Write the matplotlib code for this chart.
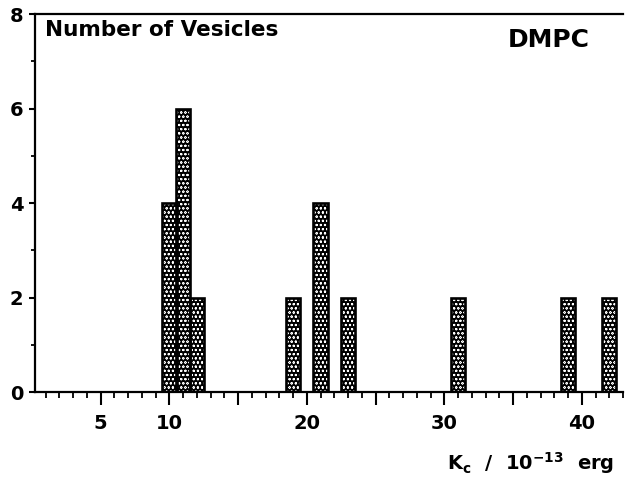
import matplotlib
matplotlib.use("Agg")
import matplotlib.pyplot as plt
from matplotlib.ticker import FixedLocator, FixedFormatter, MultipleLocator

# Data
kc_centers = [10, 11, 12, 19, 21, 23, 31, 39, 42]
counts = [4, 6, 2, 2, 4, 2, 2, 2, 2]
x_major = [5, 10, 15, 20, 25, 30, 35, 40]
x_major_labels = ["5", "10", "", "20", "", "30", "", "40"]
y_major = [0, 2, 4, 6, 8]
y_major_labels = ["0", "2", "4", "6", "8"]

plt.rcParams["font.family"] = ["DejaVu Sans"]
plt.rcParams["font.weight"] = "bold"
plt.rcParams["hatch.linewidth"] = 0.45
plt.rcParams["mathtext.fontset"] = "custom"
plt.rcParams["mathtext.bf"] = "DejaVu Sans:bold"
plt.rcParams["mathtext.rm"] = "DejaVu Sans:bold"

fig = plt.figure(figsize=(6.25, 4.83), dpi=100)
ax = fig.add_axes([0.056, 0.1884, 0.9408, 0.7826])

bw = 1.05
ax.bar(kc_centers, counts, width=bw, facecolor="black", edgecolor="white",
       hatch="oooo", linewidth=0, zorder=2)
ax.bar(kc_centers, counts, width=bw, fill=False, edgecolor="black",
       linewidth=1.9, zorder=3)

ax.set_xlim(0.23, 43.0)
ax.set_ylim(0, 8)

ax.xaxis.set_major_locator(FixedLocator(x_major))
ax.xaxis.set_major_formatter(FixedFormatter(x_major_labels))
ax.xaxis.set_minor_locator(MultipleLocator(1))
ax.yaxis.set_major_locator(FixedLocator(y_major))
ax.yaxis.set_major_formatter(FixedFormatter(y_major_labels))
ax.yaxis.set_minor_locator(MultipleLocator(1))

ax.tick_params(axis="x", which="major", direction="out", length=9, width=1.5,
               pad=7, labelsize=14)
ax.tick_params(axis="x", which="minor", direction="out", length=4.5, width=1.3)
ax.tick_params(axis="y", which="major", direction="out", length=4.5, width=1.5,
               pad=4, labelsize=14)
ax.tick_params(axis="y", which="minor", direction="out", length=3, width=1.3)
for lab in ax.get_xticklabels() + ax.get_yticklabels():
    lab.set_fontweight("bold")

ax.spines["right"].set_visible(False)
for s in ("left", "top", "bottom"):
    ax.spines[s].set_linewidth(1.6)

ax.text(0.017, 0.985, "Number of Vesicles", transform=ax.transAxes,
        ha="left", va="top", fontsize=15.5, fontweight="bold")
ax.text(0.944, 0.962, "DMPC", transform=ax.transAxes, ha="right", va="top",
        fontsize=18, fontweight="bold")

fig.text(614 / 625, 1 - 470 / 483,
         r"$\mathbf{K_c}$  /  10$^{\mathbf{-13}}$  erg",
         ha="right", va="baseline", fontsize=14, fontweight="bold")

fig.savefig("out.png", dpi=100)
